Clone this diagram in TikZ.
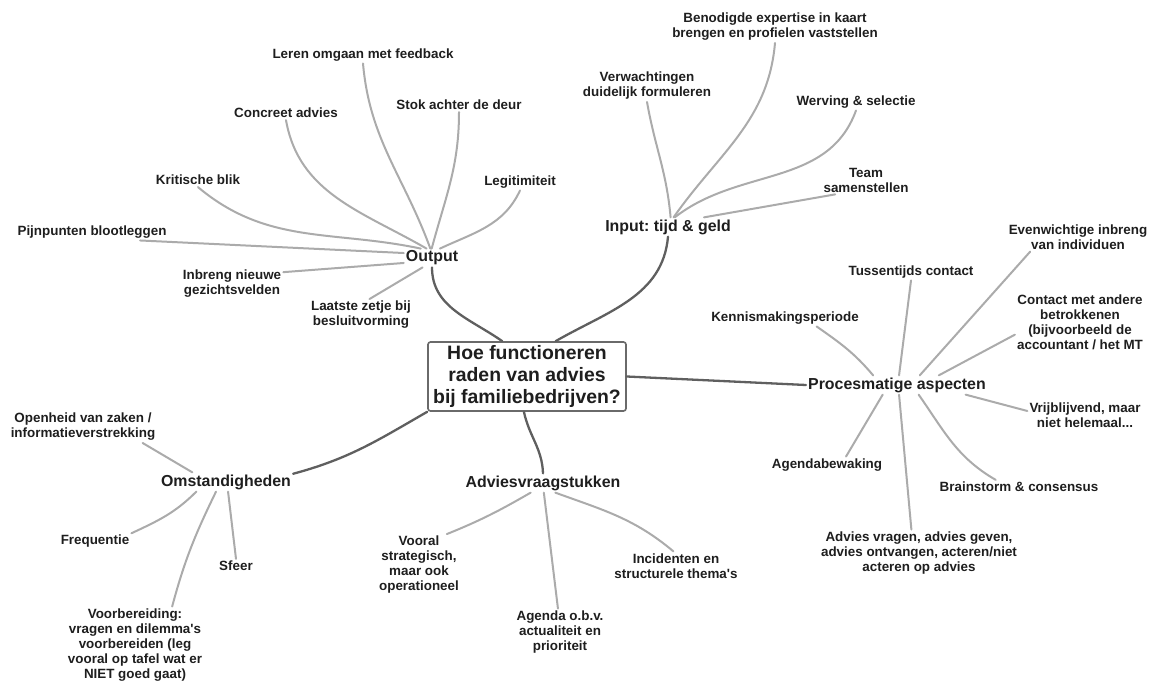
\documentclass[tikz,border=0pt]{standalone}
\usepackage{fontspec}
\setmainfont{Liberation Sans}
\frenchspacing
\definecolor{txt}{HTML}{1E1E1E}
\definecolor{hubline}{HTML}{5F5F5F}
\definecolor{leafline}{HTML}{ABABAB}
\definecolor{boxline}{HTML}{6A6A6A}

\begin{document}
\begin{tikzpicture}[x=1pt,y=1pt]
                \tikzset{
                  leaf/.style={font=\fontsize{13.4}{15}\selectfont\bfseries, align=center, inner sep=2pt, text=txt},
                  hub/.style={font=\fontsize{15.9}{18}\selectfont\bfseries, inner sep=2pt, text=txt},
                  root/.style={draw=boxline, line width=1.6pt, rounded corners=2.5pt, fill=white, align=center, text=txt,
                    font=\fontsize{19.4}{22}\selectfont\bfseries, minimum width=198pt, minimum height=69pt, inner sep=0pt},
                  twig/.style={draw=leafline, line width=2pt, line cap=round},
                  branch/.style={draw=hubline, line width=2.3pt, line cap=round}
                }
                \useasboundingbox (0,0) rectangle (1150,-682);
                \node[root] (C) at (527,-376.5) {Hoe functioneren\\raden van advies\\bij familiebedrijven?};
                \node[hub] (O) at (432,-258) {Output};
                \node[hub] (I) at (668,-227) {Input: tijd \& geld};
                \node[hub] (P) at (897,-385) {Procesmatige aspecten};
                \node[hub] (S) at (226,-482) {Omstandigheden};
                \node[hub] (A) at (543,-483) {Adviesvraagstukken};
                \node[leaf] (O1) at (363,-55) {Leren omgaan met feedback};
                \node[leaf] (O2) at (286,-113) {Concreet advies};
                \node[leaf] (O3) at (459,-105) {Stok achter de deur};
                \node[leaf] (O4) at (198,-180) {Kritische blik};
                \node[leaf] (O5) at (520,-182) {Legitimiteit};
                \node[leaf] (O6) at (92,-232) {Pijnpunten blootleggen};
                \node[leaf] (O7) at (232,-284) {Inbreng nieuwe\\gezichtsvelden};
                \node[leaf] (O8) at (361,-315) {Laatste zetje bij\\besluitvorming};
                \node[leaf] (I1) at (775,-27) {Benodigde expertise in kaart\\brengen en profielen vaststellen};
                \node[leaf] (I2) at (647,-86) {Verwachtingen\\duidelijk formuleren};
                \node[leaf] (I3) at (856,-102) {Werving \& selectie};
                \node[leaf] (I4) at (866,-180) {Team\\samenstellen};
                \node[leaf] (P1) at (1078,-237) {Evenwichtige inbreng\\van individuen};
                \node[leaf] (P2) at (911,-272) {Tussentijds contact};
                \node[leaf] (P3) at (1080,-322) {Contact met andere\\betrokkenen\\(bijvoorbeeld de\\accountant / het MT};
                \node[leaf] (P4) at (785,-318) {Kennismakingsperiode};
                \node[leaf] (P5) at (1085,-415) {Vrijblijvend, maar\\niet helemaal...};
                \node[leaf] (P6) at (827,-465) {Agendabewaking};
                \node[leaf] (P7) at (1019,-487) {Brainstorm \& consensus};
                \node[leaf] (P8) at (919,-553) {Advies vragen, advies geven,\\advies ontvangen, acteren/niet\\acteren op advies};
                \node[leaf] (S1) at (83,-427) {Openheid van zaken /\\informatieverstrekking};
                \node[leaf] (S2) at (95,-541) {Frequentie};
                \node[leaf] (S3) at (236,-566) {Sfeer};
                \node[leaf] (S4) at (135,-645) {Voorbereiding:\\vragen en dilemma\textquotesingle s\\voorbereiden (leg\\vooral op tafel wat er\\NIET goed gaat)};
                \node[leaf] (A1) at (419,-565) {Vooral\\strategisch,\\maar ook\\operationeel};
                \node[leaf] (A2) at (560,-632) {Agenda o.b.v.\\actualiteit en\\prioriteit};
                \node[leaf] (A3) at (676,-566) {Incidenten en\\structurele thema\textquotesingle s};
                \draw[branch] (O.south) to[out=-90,in=145] (C.125);
                \draw[branch] (I.south) to[out=-95,in=30] (C.51);
                \draw[branch] (C.east) -- (P.west);
                \draw[branch] (C.south west) to[out=210,in=15] (S.7);
                \draw[branch] (C.-95) to[out=-78,in=92] (A.north);
                \draw[twig] (O1.south) to[out=-85,in=110] (O.100);
                \draw[twig] (O2.south) to[out=-80,in=150] (O.120);
                \draw[twig] (O3.south) to[out=-90,in=75] (O.92);
                \draw[twig] (O4.south) to[out=-40,in=168] (O.140);
                \draw[twig] (O5.south) to[out=-115,in=25] (O.50);
                \draw[twig] (O6.-10) -- (O.170);
                \draw[twig] (O7.13) -- (O.190);
                \draw[twig] (O8.62) -- (O.225);
                \draw[twig] (I2.south) to[out=-80,in=95] (I.75);
                \draw[twig] (I1.south) to[out=-95,in=55] (I.60);
                \draw[twig] (I3.south) to[out=-110,in=38] (I.55);
                \draw[twig] (I4.205) -- (I.15);
                \draw[twig] (P4.-15) to[out=-35,in=130] (P.158);
                \draw[twig] (P2.south) -- (P.78);
                \draw[twig] (P1.197) -- (P.23);
                \draw[twig] (P3.191) -- (P.13);
                \draw[twig] (P5.176) -- (P.-8);
                \draw[twig] (P6.24) -- (P.214);
                \draw[twig] (P.-24) to[out=-55,in=150] (P7.163);
                \draw[twig] (P.-78) -- (P8.108);
                \draw[twig] (S1.-15) -- (S.164);
                \draw[twig] (S2.12) to[out=25,in=225] (S.198);
                \draw[twig] (S3.north) -- (S.-78);
                \draw[twig] (S4.46) to[out=75,in=244] (S.224);
                \draw[twig] (A1.48) to[out=22,in=210] (A.218);
                \draw[twig] (A2.95) -- (A.-85);
                \draw[twig] (A3.100) to[out=140,in=-20] (A.-38);
            \end{tikzpicture}
\end{document}
